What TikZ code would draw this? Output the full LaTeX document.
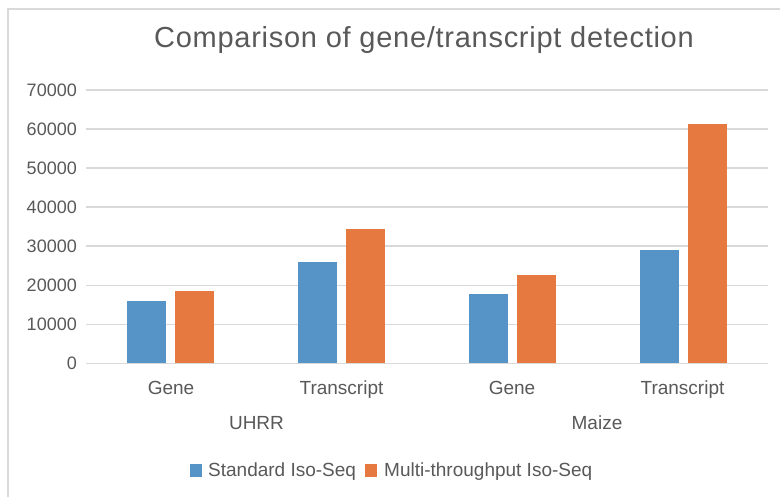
\documentclass[tikz,border=0pt]{standalone}
\usepackage{fontspec}
\setmainfont{Liberation Sans}
\newfontfamily\titlefont[LetterSpace=2.5]{Liberation Sans}
\definecolor{txtgrey}{HTML}{595959}
\definecolor{gridgrey}{HTML}{D9D9D9}
\definecolor{stdblue}{HTML}{5694C8}
\definecolor{mtorange}{HTML}{E57940}

\begin{document}
\begin{tikzpicture}[x=1pt,y=1pt,
  gridline/.style={gridgrey,line width=1.6pt},
  ylab/.style={anchor=east,inner sep=0pt,text=txtgrey,font=\fontsize{18}{20}\selectfont},
  catlab/.style={anchor=base,inner sep=0pt,text=txtgrey,font=\fontsize{19}{21}\selectfont},
  stdbar/.style={fill=stdblue,draw=none},
  mtbar/.style={fill=mtorange,draw=none}]
\useasboundingbox (0,0) rectangle (780,497);
\fill[white] (0,0) rectangle (780,497);
\draw[gridgrey,line width=2pt] (7.5,0) -- (7.5,488) -- (780,488);

\node[anchor=base,inner sep=0pt,text=txtgrey,font=\titlefont\fontsize{29}{33}\selectfont] (title) at (424,449) {Comparison of gene/transcript detection};

% values in thousands
\begin{scope}[shift={(0,133.5)},yscale=3.907]
\draw[gridline] (86,0) -- (768,0);
\draw[gridline] (86,10) -- (768,10);
\draw[gridline] (86,20) -- (768,20);
\draw[gridline] (86,30) -- (768,30);
\draw[gridline] (86,40) -- (768,40);
\draw[gridline] (86,50) -- (768,50);
\draw[gridline] (86,60) -- (768,60);
\draw[gridline] (86,70) -- (768,70);

\node[ylab] (y0) at (77,0) {0};
\node[ylab] (y10) at (77,10) {10000};
\node[ylab] (y20) at (77,20) {20000};
\node[ylab] (y30) at (77,30) {30000};
\node[ylab] (y40) at (77,40) {40000};
\node[ylab] (y50) at (77,50) {50000};
\node[ylab] (y60) at (77,60) {60000};
\node[ylab] (y70) at (77,70) {70000};

\fill[stdbar] (127,0) rectangle (166,16.0);
\fill[mtbar] (175,0) rectangle (214,18.6);
\fill[stdbar] (298,0) rectangle (337,26.0);
\fill[mtbar] (346,0) rectangle (385,34.5);
\fill[stdbar] (469,0) rectangle (508,17.9);
\fill[mtbar] (517,0) rectangle (556,22.7);
\fill[stdbar] (640,0) rectangle (679,29.1);
\fill[mtbar] (688,0) rectangle (727,61.4);
\end{scope}

\node[catlab] (gene1) at (171,102) {Gene};
\node[catlab] (trans1) at (341.5,102) {Transcript};
\node[catlab] (gene2) at (512,102) {Gene};
\node[catlab] (trans2) at (682.5,102) {Transcript};

\node[catlab] (uhrr) at (256.5,67) {UHRR};
\node[catlab] (maize) at (597,67) {Maize};

\fill[stdbar] (190,20) rectangle (202,33);
\node[catlab,anchor=base west] (stdkey) at (208,20) {Standard Iso-Seq};
\fill[mtbar] (365,20) rectangle (377,33);
\node[catlab,anchor=base west] (mtkey) at (384,20) {Multi-throughput Iso-Seq};
\end{tikzpicture}
\end{document}
